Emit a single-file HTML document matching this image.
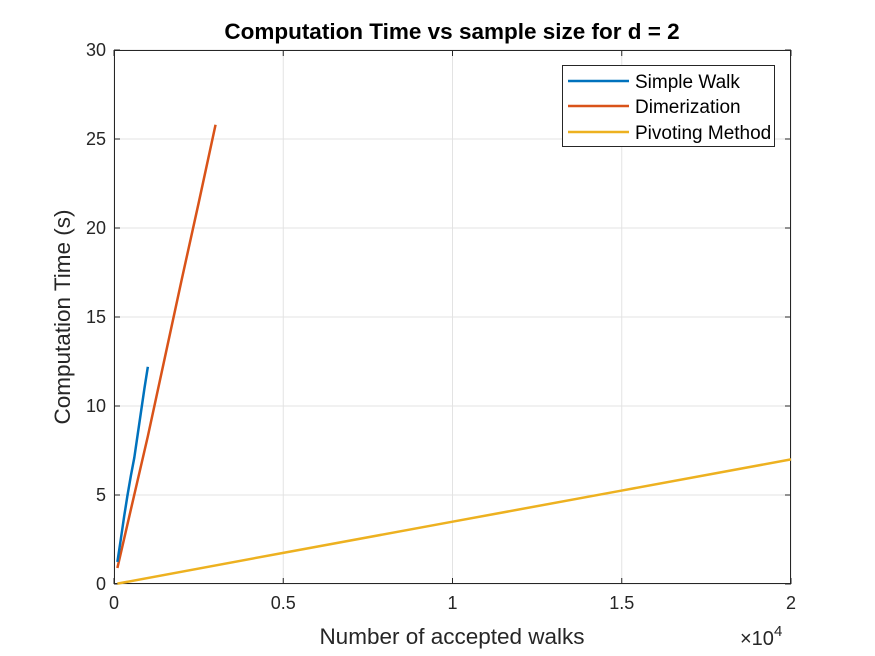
<!DOCTYPE html>
<html><head><meta charset="utf-8"><style>
html,body{margin:0;padding:0;background:#fff;}
svg{display:block;font-family:"Liberation Sans",Arial,sans-serif;}
</style></head><body>
<svg id="chart" width="875" height="656" viewBox="0 0 875 656">
<rect width="875" height="656" fill="#fff"/>
<g id="grid"></g>
<g id="axes"></g>
<g id="series"></g>
<text x="452" y="39" text-anchor="middle" font-size="22.5" font-weight="bold" fill="#000">Computation Time vs sample size for d = 2</text>
<text x="452" y="644" text-anchor="middle" font-size="22.5" fill="#262626">Number of accepted walks</text>
<text transform="translate(70,317) rotate(-90)" text-anchor="middle" font-size="22.5" fill="#262626">Computation Time (s)</text>
<text x="740" y="645" font-size="20" fill="#262626">×10<tspan dy="-9" font-size="15">4</tspan></text>
<g>
<rect x="562.5" y="65.5" width="212" height="81" fill="#fff" stroke="#262626" stroke-width="1"/>
<g><line x1="568" y1="81" x2="629" y2="81" stroke="#0072BD" stroke-width="2.5"/><text x="635" y="88" font-size="19" fill="#000">Simple Walk</text></g>
<g><line x1="568" y1="106" x2="629" y2="106" stroke="#D95319" stroke-width="2.5"/><text x="635" y="113" font-size="19" fill="#000">Dimerization</text></g>
<g><line x1="568" y1="132" x2="629" y2="132" stroke="#EDB120" stroke-width="2.5"/><text x="635" y="139" font-size="19" fill="#000">Pivoting Method</text></g>
</g>
</svg>
<script>
const xTicks=[0,5000,10000,15000,20000];
const xTickLabels=["0","0.5","1","1.5","2"];
const yTicks=[0,5,10,15,20,25,30];
const simpleX=[100,200,300,400,500,600,700,800,900,1000];
const simpleY=[1.24,2.5,3.8,5.0,6.1,7.1,8.4,9.7,11.0,12.2];
const dimerX=[100,500,1000,1500,2000,2500,3000];
const dimerY=[0.9,4.2,8.3,12.7,17.1,21.4,25.8];
const pivotX=[100,5000,10000,15000,20000];
const pivotY=[0.02,1.75,3.5,5.25,7.0];
const L=114,R=791,T=50,B=584;
function sx(v){return L+(v/20000)*(R-L);}
function sy(v){return B-(v/30)*(B-T);}
const NS="http://www.w3.org/2000/svg";
function mk(t,a,p){const e=document.createElementNS(NS,t);for(const k in a)e.setAttribute(k,a[k]);p.appendChild(e);return e;}
const grid=document.getElementById('grid'),axes=document.getElementById('axes'),ser=document.getElementById('series');
xTicks.forEach((v,i)=>{
 const g=mk('line',{x1:sx(v),x2:sx(v),y1:T,y2:B,stroke:'#e3e3e3','stroke-width':1},grid);
 
 
 mk('line',{x1:sx(v),x2:sx(v),y1:B,y2:B-6,stroke:'#262626'},axes);
 mk('line',{x1:sx(v),x2:sx(v),y1:T,y2:T+6,stroke:'#262626'},axes);
 const t=mk('text',{x:sx(v),y:B+25,'text-anchor':'middle','font-size':18,fill:'#262626'},axes);
 t.textContent=xTickLabels[i];
 
 
});
yTicks.forEach(v=>{
 const g=mk('line',{x1:L,x2:R,y1:sy(v),y2:sy(v),stroke:'#e3e3e3','stroke-width':1},grid);
 
 
 mk('line',{x1:L,x2:L+6,y1:sy(v),y2:sy(v),stroke:'#262626'},axes);
 mk('line',{x1:R,x2:R-6,y1:sy(v),y2:sy(v),stroke:'#262626'},axes);
 const t=mk('text',{x:L-8,y:sy(v)+6,'text-anchor':'end','font-size':18,fill:'#262626'},axes);
 t.textContent=String(v);
 
 
});
mk('rect',{x:L+0.5,y:T+0.5,width:R-L-1,height:B-T-1,fill:'none',stroke:'#262626','stroke-width':1},axes);
function line(xs,ys,c,name){
 const p=mk('polyline',{points:xs.map((x,i)=>sx(x)+','+sy(ys[i])).join(' '),fill:'none',stroke:c,'stroke-width':2.5,'stroke-linejoin':'round'},ser);
 
 
}
line(pivotX,pivotY,'#EDB120','pivoting-line');
line(dimerX,dimerY,'#D95319','dimerization-line');
line(simpleX,simpleY,'#0072BD','simple-walk-line');
</script>
</body></html>
